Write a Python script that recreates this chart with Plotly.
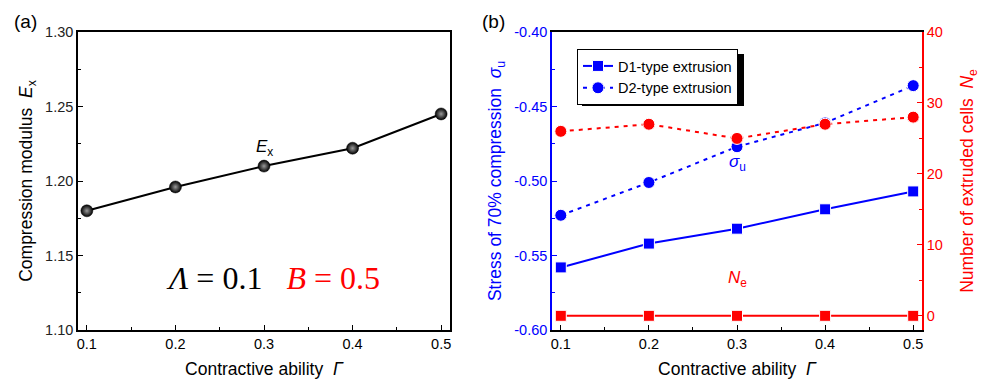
import plotly.graph_objects as go

# ---- data ----
gamma = [0.1, 0.2, 0.3, 0.4, 0.5]
Ex = [1.180, 1.196, 1.210, 1.222, 1.245]
sigma_D1 = [-0.558, -0.542, -0.532, -0.519, -0.507]
sigma_D2 = [-0.523, -0.501, -0.477, -0.461, -0.436]
Ne_D1 = [0, 0, 0, 0, 0]
Ne_D2 = [26, 27, 25, 27, 28]
x_ticks = [0.1, 0.2, 0.3, 0.4, 0.5]
x_ticklabels = ["0.1", "0.2", "0.3", "0.4", "0.5"]
sigma_ticks = [-0.60, -0.55, -0.50, -0.45, -0.40]
sigma_ticklabels = ["-0.60", "-0.55", "-0.50", "-0.45", "-0.40"]

BLUE = "#0000ff"
RED = "#ff0000"
FONT = "Liberation Sans, Arial, sans-serif"

fig = go.Figure()

# Panel (a)
fig.add_trace(go.Scatter(
    x=gamma, y=Ex, mode="lines+markers", xaxis="x", yaxis="y",
    line=dict(color="black", width=2),
    marker=dict(symbol="circle", size=12, color="black",
                gradient=dict(type="radial", color="#9a9a9a"),
                line=dict(color="black", width=0.5)),
    showlegend=False))

# Panel (b) left axis
fig.add_trace(go.Scatter(
    x=gamma, y=sigma_D1, mode="lines+markers", xaxis="x2", yaxis="y2",
    name="D1-type extrusion",
    line=dict(color=BLUE, width=2),
    marker=dict(symbol="square", size=11, color=BLUE, line=dict(color="white", width=1))))
fig.add_trace(go.Scatter(
    x=gamma, y=sigma_D2, mode="lines+markers", xaxis="x2", yaxis="y2",
    name="D2-type extrusion",
    line=dict(color=BLUE, width=2, dash="4px,5px"),
    marker=dict(symbol="circle", size=12, color=BLUE, line=dict(color="white", width=1))))
# Panel (b) right axis
fig.add_trace(go.Scatter(
    x=gamma, y=Ne_D1, mode="lines+markers", xaxis="x2", yaxis="y3",
    line=dict(color=RED, width=2),
    marker=dict(symbol="square", size=11, color=RED, line=dict(color="white", width=1)),
    showlegend=False))
fig.add_trace(go.Scatter(
    x=gamma, y=Ne_D2, mode="lines+markers", xaxis="x2", yaxis="y3",
    line=dict(color=RED, width=2, dash="4px,5px"),
    marker=dict(symbol="circle", size=12, color=RED, line=dict(color="white", width=1)),
    showlegend=False))

ydom = [1 - 330 / 385, 1 - 32 / 385]
common_x = dict(range=[0.09, 0.51], tickvals=x_ticks, ticktext=x_ticklabels,
                ticks="inside", ticklen=5, tickwidth=1,
                minor=dict(dtick=0.05, ticks="inside", ticklen=3, tickcolor="black"),
                showline=True, linecolor="black", linewidth=1.5, mirror=True,
                showgrid=False, zeroline=False, tickcolor="black",
                tickfont=dict(size=14.5, color="black", family=FONT),
                title=dict(text="Contractive ability  <i>Γ</i>", font=dict(size=17.5, family=FONT, color="black"),
                           standoff=12),
                automargin=False)

fig.update_layout(
    width=983, height=385,
    margin=dict(l=0, r=0, t=0, b=0),
    paper_bgcolor="white", plot_bgcolor="white",
    font=dict(family=FONT),
    xaxis=dict(domain=[78 / 983, 450 / 983], anchor="y", **common_x),
    yaxis=dict(domain=ydom, anchor="x", range=[1.10, 1.30], dtick=0.05, tickformat=".2f",
               ticks="inside", ticklen=5, tickcolor="black",
               minor=dict(dtick=0.025, ticks="inside", ticklen=3, tickcolor="black"),
               showline=True, linecolor="black", linewidth=1.5, mirror=True,
               showgrid=False, zeroline=False,
               tickfont=dict(size=14.5, color="#222", family=FONT),
               title=dict(text="Compression modulus  <i>E</i><sub>x</sub>",
                          font=dict(size=17.5, family=FONT, color="black"), standoff=8),
               automargin=False),
    xaxis2=dict(domain=[552 / 983, 922 / 983], anchor="y2", **common_x),
    yaxis2=dict(domain=ydom, anchor="x2", range=[-0.60, -0.40],
                tickvals=sigma_ticks, ticktext=sigma_ticklabels,
                ticks="inside", ticklen=5, tickcolor=BLUE,
                minor=dict(dtick=0.025, ticks="inside", ticklen=3, tickcolor=BLUE),
                showline=True, linecolor=BLUE, linewidth=1.5, mirror=False,
                showgrid=False, zeroline=False,
                tickfont=dict(size=14.5, color=BLUE, family=FONT),
                title=dict(text="Stress of 70% compression  <i>σ</i><sub>u</sub>",
                           font=dict(size=17.5, family=FONT, color=BLUE), standoff=8),
                automargin=False),
    yaxis3=dict(overlaying="y2", side="right", anchor="x2", range=[-2, 40], dtick=10,
                ticks="inside", ticklen=5, tickcolor=RED,
                minor=dict(dtick=5, ticks="inside", ticklen=3, tickcolor=RED),
                showline=True, linecolor=RED, linewidth=1.5,
                showgrid=False, zeroline=False,
                tickfont=dict(size=14.5, color=RED, family=FONT),
                title=dict(text="Number of extruded cells  <i>N</i><sub>e</sub>",
                           font=dict(size=17.5, family=FONT, color=RED), standoff=19),
                automargin=False),
    legend=dict(x=577 / 983, y=1 - 49 / 385, xanchor="left", yanchor="top",
                bgcolor="white", bordercolor="black", borderwidth=1,
                font=dict(size=14.5, family=FONT, color="black"),
                tracegroupgap=0, itemwidth=30),
)

# legend drop shadow (drawn above traces, legend sits on top of it)
fig.add_shape(type="rect", xref="paper", yref="paper", layer="above",
              x0=582 / 983, x1=744 / 983, y0=1 - 106 / 385, y1=1 - 54 / 385,
              fillcolor="black", line=dict(width=0))

ann = [
    dict(x=25 / 983, y=1 - 21 / 385, xref="paper", yref="paper", text="(a)", showarrow=False,
         xanchor="center", yanchor="middle",
         font=dict(size=19, family=FONT, color="black")),
    dict(x=494 / 983, y=1 - 21 / 385, xref="paper", yref="paper", text="(b)", showarrow=False,
         xanchor="center", yanchor="middle",
         font=dict(size=19, family=FONT, color="black")),
    dict(x=0.3, y=1.222, xref="x", yref="y", text="<i>E</i><sub>x</sub>", showarrow=False,
         font=dict(size=17, family=FONT, color="black")),
    dict(x=0.3, y=-0.488, xref="x2", yref="y2", text="<i>σ</i><sub>u</sub>", showarrow=False,
         font=dict(size=17, family=FONT, color=BLUE)),
    dict(x=0.3, y=-0.566, xref="x2", yref="y2", text="<i>N</i><sub>e</sub>", showarrow=False,
         font=dict(size=17, family=FONT, color=RED)),
    dict(x=273 / 983, y=1 - 278 / 385, xref="paper", yref="paper",
         xanchor="center", yanchor="middle",
         text="<i>Λ</i> = 0.1   <span style='color:#ff0000'><i>B</i> = 0.5</span>",
         showarrow=False, font=dict(size=32, family="Liberation Serif, Times New Roman, serif", color="black")),
]
fig.update_layout(annotations=ann)

fig.write_html("out.html")
